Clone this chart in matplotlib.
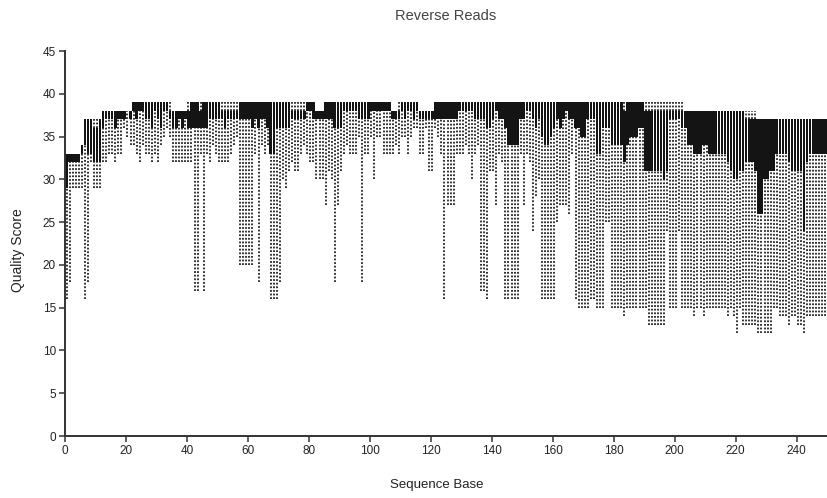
import numpy as np
import matplotlib.pyplot as plt

plt.rcParams['font.family'] = ['Liberation Sans', 'DejaVu Sans']

# per-base quality summary (positions 1..250)
# whisker top, box top (q3), box bottom (q1), whisker bottom
whisker_hi = [
    33, 33, 33, 33, 33, 34, 37, 37, 37, 37,
    37, 37, 38, 38, 38, 38, 38, 38, 38, 38,
    38, 38, 39, 39, 39, 39, 39, 39, 39, 39,
    39, 39, 39, 39, 39, 38, 38, 38, 38, 38,
    39, 39, 39, 39, 39, 39, 39, 39, 39, 39,
    39, 39, 39, 39, 39, 39, 39, 39, 39, 39,
    39, 39, 39, 39, 39, 39, 39, 39, 39, 39,
    39, 39, 39, 39, 39, 39, 39, 39, 39, 39,
    39, 39, 38, 38, 38, 39, 39, 39, 39, 39,
    39, 39, 39, 39, 39, 39, 39, 39, 39, 39,
    39, 39, 39, 39, 39, 39, 39, 38, 38, 39,
    39, 39, 39, 39, 39, 39, 38, 38, 38, 38,
    38, 39, 39, 39, 39, 39, 39, 39, 39, 39,
    39, 39, 39, 39, 39, 39, 39, 39, 39, 39,
    39, 39, 39, 39, 39, 39, 39, 39, 39, 39,
    39, 39, 39, 39, 39, 39, 39, 39, 39, 39,
    39, 39, 39, 39, 39, 39, 39, 39, 39, 39,
    39, 39, 39, 39, 39, 39, 39, 39, 39, 39,
    39, 39, 39, 39, 39, 39, 39, 39, 39, 39,
    39, 39, 39, 39, 39, 39, 39, 39, 39, 39,
    39, 39, 39, 38, 38, 38, 38, 38, 38, 38,
    38, 38, 38, 38, 38, 38, 38, 38, 38, 38,
    38, 38, 38, 38, 38, 38, 38, 37, 37, 37,
    37, 37, 37, 37, 37, 37, 37, 37, 37, 37,
    37, 37, 37, 37, 37, 37, 37, 37, 37, 37,
]
box_hi = [
    33, 33, 33, 33, 33, 34, 37, 37, 37, 36,
    36, 37, 38, 38, 38, 38, 38, 38, 38, 38,
    38, 38, 39, 39, 39, 39, 39, 39, 39, 39,
    39, 39, 39, 39, 38, 38, 38, 38, 38, 38,
    38, 39, 39, 39, 38, 39, 39, 39, 39, 39,
    39, 38, 38, 38, 38, 38, 38, 39, 39, 39,
    39, 39, 39, 39, 39, 39, 39, 39, 39, 39,
    39, 39, 39, 39, 38, 38, 38, 38, 38, 39,
    39, 39, 38, 38, 38, 39, 39, 39, 39, 39,
    39, 39, 39, 39, 39, 39, 39, 39, 39, 39,
    39, 39, 39, 39, 39, 39, 39, 38, 38, 38,
    39, 39, 39, 39, 39, 39, 38, 38, 38, 38,
    38, 39, 39, 39, 39, 39, 39, 39, 39, 39,
    39, 39, 39, 39, 39, 39, 39, 39, 39, 39,
    39, 39, 39, 39, 39, 39, 39, 39, 39, 39,
    39, 39, 39, 39, 39, 39, 39, 39, 39, 39,
    39, 39, 39, 39, 39, 39, 39, 39, 39, 39,
    39, 39, 39, 39, 39, 39, 39, 39, 39, 39,
    39, 39, 39, 38, 39, 39, 39, 39, 39, 39,
    38, 38, 38, 38, 38, 38, 38, 38, 38, 38,
    38, 38, 38, 38, 38, 38, 38, 38, 38, 38,
    38, 38, 38, 38, 38, 38, 38, 38, 38, 38,
    38, 38, 38, 37, 37, 37, 37, 37, 37, 37,
    37, 37, 37, 37, 37, 37, 37, 37, 37, 37,
    37, 37, 37, 37, 37, 37, 37, 37, 37, 37,
]
box_lo = [
    29, 32, 32, 32, 32, 33, 34, 33, 33, 32,
    32, 32, 36, 37, 37, 37, 36, 37, 37, 37,
    38, 37, 38, 37, 38, 38, 37, 37, 36, 38,
    37, 36, 38, 38, 37, 36, 36, 37, 36, 37,
    36, 36, 36, 36, 36, 36, 36, 37, 37, 37,
    37, 37, 36, 37, 37, 37, 37, 37, 37, 37,
    37, 36, 37, 36, 37, 37, 36, 33, 33, 36,
    36, 36, 36, 36, 37, 37, 37, 37, 37, 38,
    38, 37, 37, 37, 37, 37, 37, 37, 36, 36,
    36, 38, 38, 38, 38, 38, 37, 37, 37, 37,
    38, 38, 38, 38, 38, 38, 38, 37, 37, 37,
    38, 37, 38, 38, 37, 38, 37, 37, 37, 37,
    37, 37, 37, 37, 37, 37, 37, 37, 37, 38,
    38, 38, 38, 38, 37, 37, 37, 37, 36, 36,
    37, 38, 37, 37, 36, 34, 34, 34, 34, 37,
    37, 38, 38, 37, 36, 37, 35, 34, 34, 35,
    36, 37, 36, 37, 38, 37, 37, 36, 36, 35,
    35, 37, 37, 37, 33, 33, 36, 36, 36, 34,
    34, 34, 34, 32, 34, 35, 35, 35, 36, 36,
    31, 31, 31, 31, 31, 31, 30, 31, 37, 37,
    37, 37, 36, 36, 34, 34, 33, 33, 33, 34,
    34, 33, 33, 33, 33, 33, 33, 32, 31, 30,
    30, 31, 31, 32, 32, 32, 31, 26, 26, 30,
    30, 31, 31, 33, 33, 33, 33, 32, 31, 31,
    31, 31, 24, 32, 33, 33, 33, 33, 33, 33,
]
whisker_lo = [
    16, 18, 29, 29, 29, 29, 16, 18, 32, 29,
    29, 29, 32, 32, 33, 33, 32, 33, 33, 36,
    35, 34, 34, 33, 32, 34, 33, 33, 32, 33,
    32, 34, 35, 36, 35, 32, 32, 32, 32, 32,
    32, 32, 17, 17, 33, 17, 33, 32, 34, 33,
    32, 32, 32, 32, 33, 34, 35, 20, 20, 20,
    20, 20, 33, 18, 34, 33, 34, 16, 16, 16,
    18, 30, 29, 31, 32, 31, 31, 33, 34, 33,
    32, 32, 30, 30, 30, 27, 31, 30, 18, 27,
    31, 33, 34, 33, 33, 33, 35, 18, 33, 33,
    35, 30, 35, 35, 33, 33, 33, 33, 34, 33,
    35, 35, 33, 35, 36, 36, 33, 33, 36, 31,
    31, 36, 35, 33, 16, 27, 27, 27, 33, 33,
    33, 34, 33, 30, 33, 34, 17, 17, 16, 31,
    31, 27, 33, 32, 16, 16, 16, 16, 16, 33,
    27, 33, 32, 24, 28, 30, 16, 16, 16, 16,
    16, 25, 27, 27, 27, 26, 33, 16, 15, 15,
    15, 15, 16, 16, 15, 15, 15, 25, 25, 15,
    15, 15, 15, 14, 15, 15, 15, 15, 15, 15,
    15, 13, 13, 13, 13, 13, 13, 24, 15, 15,
    15, 24, 15, 15, 15, 15, 14, 15, 15, 14,
    15, 15, 15, 15, 15, 15, 15, 14, 15, 14,
    12, 15, 13, 13, 13, 13, 13, 12, 12, 12,
    12, 12, 15, 15, 14, 14, 14, 13, 14, 14,
    13, 13, 12, 14, 14, 14, 14, 14, 14, 14,
]

pos = np.arange(len(box_lo)) + 0.5
whisker_hi = np.array(whisker_hi)
box_hi = np.array(box_hi)
box_lo = np.array(box_lo)
whisker_lo = np.array(whisker_lo)

fig = plt.figure(figsize=(8.28, 4.98), dpi=100)
ax = fig.add_axes([65 / 828, 62 / 498, 762 / 828, 385 / 498])

dash = (0, (1.0, 1.0))
ax.vlines(pos, whisker_lo, box_lo, colors='#222222', linewidth=1.3, linestyles=dash)
up = whisker_hi > box_hi
ax.vlines(pos[up], box_hi[up], whisker_hi[up], colors='#222222', linewidth=1.3, linestyles=dash)
ax.bar(pos, box_hi - box_lo, bottom=box_lo, width=0.82, color='#141414', linewidth=0)

ax.set_xlim(0, 250)
ax.set_ylim(0, 45)
ax.set_xticks(np.arange(0, 241, 20))
ax.set_yticks(np.arange(0, 46, 5))
for s in ['top', 'right']:
    ax.spines[s].set_visible(False)
for s in ['left', 'bottom']:
    ax.spines[s].set_color('#333333')
    ax.spines[s].set_linewidth(1.4)
ax.tick_params(direction='out', length=4.5, width=1.1, color='#333333',
               labelsize=8.5, labelcolor='#222222', pad=2)

fig.text(446 / 828, 1 - 16 / 498, 'Reverse Reads', ha='center', va='center',
         fontsize=10.5, color='#444444')
fig.text(437 / 828, 1 - 485 / 498, 'Sequence Base', ha='center', va='center',
         fontsize=9.5, color='#222222')
fig.text(18 / 828, 1 - 250 / 498, 'Quality Score', ha='center', va='center',
         rotation=90, fontsize=10, color='#222222')

fig.savefig('out.png', dpi=100)
